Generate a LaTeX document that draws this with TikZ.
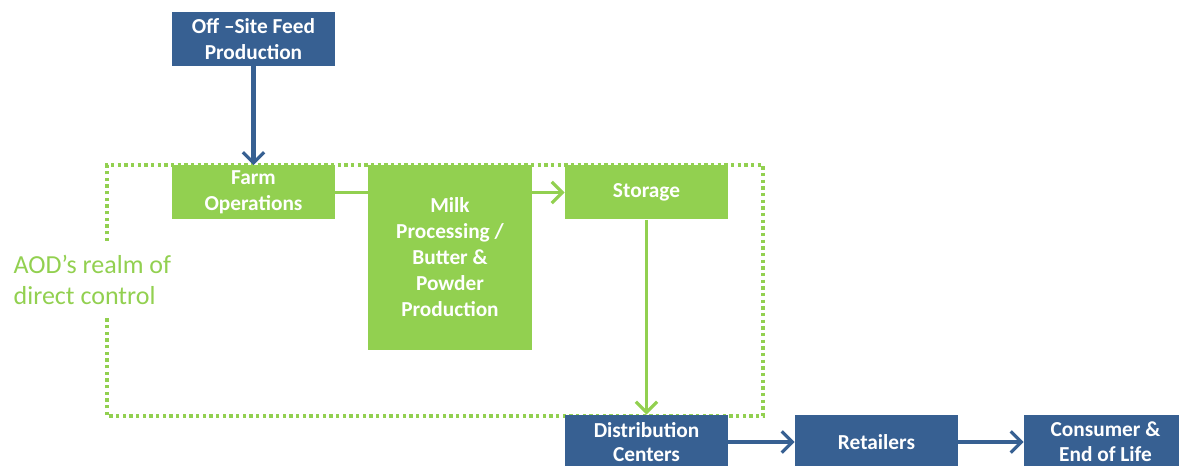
\documentclass[tikz,border=0pt]{standalone}
\usepackage{fontspec}
\setmainfont{Carlito}
\usetikzlibrary{arrows.meta}
\definecolor{leaf}{HTML}{92D050}
\definecolor{navy}{HTML}{376092}
\tikzset{
  box/.style={fill=#1, text=white, font=\bfseries\fontsize{16}{19.5}\selectfont,
    align=center, inner sep=0pt, minimum width=122.25pt, minimum height=40.5pt},
  flow/.style={line width=#1},
  tip/.style={-{Straight Barb[length=8pt,width=16pt,line width=2.4pt]}},
  realm/.style={leaf, line width=2.6pt, dash pattern=on 2.6pt off 2.4pt}
}
\begin{document}
\begin{tikzpicture}[x=0.75pt, y=-0.75pt]
  \useasboundingbox (0,0) rectangle (1179,466);
  \clip (0,0) rectangle (1179,466);

  % boundary of direct control, open on the left for its label
  \draw[realm] (107,241) -- (107,165) -- (763,165) -- (763,416) -- (107,416) -- (107,318);
  \node[anchor=west, align=left, text=leaf, font=\fontsize{19.5}{23}\selectfont]
    (label) at (9,280) {AOD’s realm of\\direct control};

  % process boxes
  \node[box=navy] (feed) at (253.5,39) {Off –Site Feed\\Production};
  \node[box=leaf] (farm) at (253.5,192.5) {Farm\\Operations};
  \node[box=leaf, minimum width=123pt, minimum height=138.75pt] (milk) at (450,257.5)
    {Milk\\Processing /\\Butter \&\\Powder\\Production};
  \node[box=leaf] (store) at (646.5,192.5) {Storage};
  \node[box=navy, font=\bfseries\fontsize{16}{18.5}\selectfont] (dist) at (646.5,442)
    {Distribution\\Centers};
  \node[box=navy] (retail) at (876.5,442) {Retailers};
  \node[box=navy, font=\bfseries\fontsize{16}{18.5}\selectfont] (cons) at (1105.5,442)
    {Consumer \&\\End of Life};

  % connectors
  \draw[flow=3.4pt, navy, tip] (feed.south) -- (farm.north);
  \draw[flow=2.4pt, leaf] (farm.east) -- (farm.east -| milk.west);
  \draw[flow=2.4pt, leaf, tip] (store.west -| milk.east) -- (store.west);
  \draw[flow=2.4pt, leaf, tip] (store.south) -- (dist.north);
  \draw[flow=3.4pt, navy, tip] (dist.east) -- (retail.west);
  \draw[flow=3.4pt, navy, tip] (retail.east) -- (cons.west);
\end{tikzpicture}
\end{document}
